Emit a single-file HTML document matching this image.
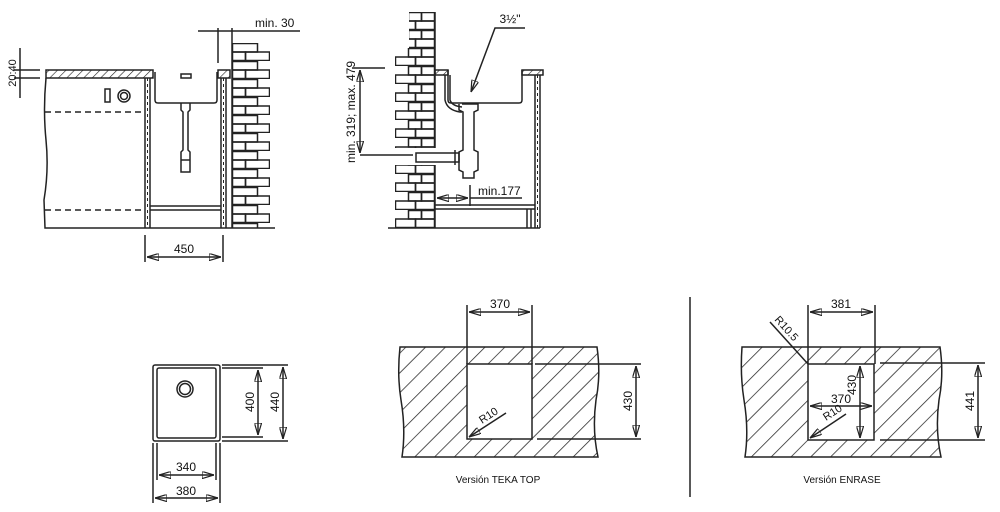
<!DOCTYPE html>
<html><head><meta charset="utf-8"><style>
html,body{margin:0;padding:0;background:#fff;width:1000px;height:512px;overflow:hidden}
text{font-family:"Liberation Sans",sans-serif;fill:#111}
</style></head><body>
<svg width="1000" height="512" viewBox="0 0 1000 512" xmlns="http://www.w3.org/2000/svg">
<defs>
<pattern id="h" patternUnits="userSpaceOnUse" width="14" height="14" patternTransform="rotate(45)">
<line x1="0" y1="0" x2="0" y2="14" stroke="#222" stroke-width="1.5"/></pattern>
<pattern id="hs" patternUnits="userSpaceOnUse" width="6" height="6" patternTransform="rotate(45)">
<line x1="0" y1="0" x2="0" y2="6" stroke="#222" stroke-width="1.2"/></pattern>
<pattern id="b1" patternUnits="userSpaceOnUse" x="232" y="43" width="38" height="18">
<rect x="0.5" y="0.5" width="25" height="8.5" fill="none" stroke="#222" stroke-width="1.5"/>
<rect x="0.5" y="9" width="13" height="8.5" fill="none" stroke="#222" stroke-width="1.5"/>
<rect x="13.5" y="9" width="24" height="8.5" fill="none" stroke="#222" stroke-width="1.5"/>
</pattern>
<pattern id="b2" patternUnits="userSpaceOnUse" x="395" y="12" width="40" height="18">
<rect x="13.5" y="0.5" width="13" height="8.5" fill="none" stroke="#222" stroke-width="1.5"/>
<rect x="26.5" y="0.5" width="13" height="8.5" fill="none" stroke="#222" stroke-width="1.5"/>
<rect x="0.5" y="9" width="20" height="8.5" fill="none" stroke="#222" stroke-width="1.5"/>
<rect x="20.5" y="9" width="19" height="8.5" fill="none" stroke="#222" stroke-width="1.5"/>
</pattern>
<marker id="a" viewBox="0 0 10 6" refX="10" refY="3" markerWidth="8" markerHeight="5" orient="auto-start-reverse"><path d="M0,0 L10,3 L0,6 z" fill="none" stroke="#222"/></marker>
</defs>
<g stroke="#222" stroke-width="1.5" fill="none">
<!-- Drawing 1 -->
<line x1="20" y1="48" x2="20" y2="98"/>
<line x1="14" y1="70" x2="40" y2="70"/><line x1="14" y1="78" x2="40" y2="78"/>
<rect x="46" y="70" width="107" height="8" fill="url(#hs)"/>
<rect x="218" y="70" width="12" height="8" fill="url(#hs)"/>
<path d="M46,78 Q43,110 46,140 Q49,170 44,200 L45,228 L275,228"/>
<line x1="45" y1="112" x2="145" y2="112" stroke-dasharray="6,4"/>
<line x1="45" y1="210" x2="145" y2="210" stroke-dasharray="6,4"/>
<line x1="145" y1="78" x2="145" y2="228"/><line x1="150" y1="78" x2="150" y2="228"/>
<line x1="147.5" y1="78" x2="147.5" y2="228" stroke-dasharray="3,3" stroke-width="1"/>
<line x1="221" y1="78" x2="221" y2="228"/><line x1="226" y1="78" x2="226" y2="228"/>
<line x1="223.5" y1="78" x2="223.5" y2="228" stroke-dasharray="3,3" stroke-width="1"/>
<line x1="150" y1="206" x2="221" y2="206"/><line x1="150" y1="210" x2="221" y2="210"/>
<path d="M155,72 L155,100 Q155,103 158,103 L214,103 Q217,103 217,100 L217,72"/>
<rect x="181" y="74" width="10" height="4"/>
<path d="M181,103 L181,110 L183,112 L183,150 L181,152 L181,172 L190,172 L190,152 L188,150 L188,112 L190,110 L190,103"/>
<line x1="181" y1="160" x2="190" y2="160"/>
<rect x="105" y="89" width="5" height="13"/>
<circle cx="124" cy="96" r="6"/><circle cx="124" cy="96" r="3.5"/>
<rect x="232" y="43" width="38" height="185" fill="url(#b1)" stroke="none"/>
<line x1="232" y1="43" x2="232" y2="228"/>
<line x1="198" y1="31" x2="300" y2="31"/>
<line x1="218" y1="28" x2="218" y2="63"/><line x1="232" y1="28" x2="232" y2="43"/>
<line x1="145" y1="235" x2="145" y2="262"/><line x1="223" y1="235" x2="223" y2="262"/>
<line x1="147" y1="257" x2="221" y2="257" marker-start="url(#a)" marker-end="url(#a)"/>
<!-- Drawing 2 -->
<rect x="395" y="12" width="40" height="136" fill="url(#b2)" stroke="none"/>
<rect x="395" y="165" width="40" height="63" fill="url(#b2)" stroke="none"/>
<rect x="395" y="0" width="14" height="48" fill="#fff" stroke="none"/>
<line x1="435" y1="12" x2="435" y2="148"/><line x1="435" y1="165" x2="435" y2="228"/>
<rect x="435" y="70" width="13" height="5" fill="url(#hs)"/>
<rect x="522" y="70" width="21" height="5" fill="url(#hs)"/>
<path d="M448,70 L448,100 Q448,103 451,103 L519,103 Q522,103 522,100 L522,70"/>
<line x1="535" y1="75" x2="535" y2="228"/><line x1="540" y1="75" x2="540" y2="228"/>
<line x1="537.5" y1="75" x2="537.5" y2="228" stroke-dasharray="3,3" stroke-width="1"/>
<line x1="388" y1="228" x2="540" y2="228"/>
<line x1="435" y1="205" x2="535" y2="205"/><line x1="435" y1="209" x2="535" y2="209"/>
<line x1="527" y1="209" x2="527" y2="228"/><line x1="531" y1="209" x2="531" y2="228"/>
<path d="M445,75 L445,100 Q447,110 460,112 L462,112 M450,75 L450,100 Q452,106 462,107"/>
<path d="M462,104 L478,104 L478,110 L474,112 L474,150 L478,152 L478,170 L474,172 L474,178 L463,178 L463,172 L459,170 L459,152 L463,150 L463,112 L459,110 L459,104"/>
<rect x="416" y="153" width="43" height="9"/>
<line x1="455" y1="150" x2="455" y2="165"/>
<line x1="352" y1="68" x2="385" y2="68"/><line x1="360" y1="155" x2="413" y2="155"/>
<line x1="360" y1="70" x2="360" y2="153" marker-start="url(#a)" marker-end="url(#a)"/>
<path d="M525,28 L495,28 L471,92" marker-end="url(#a)"/>
<line x1="470" y1="185" x2="470" y2="206"/>
<line x1="437" y1="198" x2="468" y2="198" marker-start="url(#a)" marker-end="url(#a)"/>
<line x1="470" y1="198" x2="522" y2="198"/>
<!-- Drawing 3 -->
<rect x="153" y="365" width="67" height="76" rx="2"/>
<rect x="157" y="368" width="59" height="70" rx="2"/>
<circle cx="185" cy="389" r="8"/><circle cx="185" cy="389" r="5.5"/>
<line x1="222" y1="368" x2="263" y2="368"/><line x1="222" y1="437" x2="263" y2="437"/>
<line x1="222" y1="365" x2="288" y2="365"/><line x1="222" y1="441" x2="288" y2="441"/>
<line x1="258" y1="370" x2="258" y2="435" marker-start="url(#a)" marker-end="url(#a)"/>
<line x1="283" y1="367" x2="283" y2="439" marker-start="url(#a)" marker-end="url(#a)"/>
<line x1="157" y1="443" x2="157" y2="480"/><line x1="216" y1="443" x2="216" y2="480"/>
<line x1="153" y1="443" x2="153" y2="503"/><line x1="220" y1="443" x2="220" y2="503"/>
<line x1="159" y1="475" x2="214" y2="475" marker-start="url(#a)" marker-end="url(#a)"/>
<line x1="155" y1="498" x2="218" y2="498" marker-start="url(#a)" marker-end="url(#a)"/>
<!-- Drawing 4 -->
<path d="M400,347 L597,347 Q601,375 596,400 Q592,430 598,457 L402,457 Q406,430 401,400 Q397,375 400,347 Z" fill="url(#h)"/>
<rect x="467" y="364" width="65" height="75" fill="#fff"/>
<line x1="467" y1="305" x2="467" y2="364"/><line x1="532" y1="305" x2="532" y2="364"/>
<line x1="469" y1="312" x2="530" y2="312" marker-start="url(#a)" marker-end="url(#a)"/>
<line x1="535" y1="364" x2="641" y2="364"/><line x1="537" y1="439" x2="641" y2="439"/>
<line x1="636" y1="366" x2="636" y2="437" marker-start="url(#a)" marker-end="url(#a)"/>
<line x1="506" y1="413" x2="469" y2="437" marker-end="url(#a)"/>
<line x1="690" y1="297" x2="690" y2="497"/>
<!-- Drawing 5 -->
<path d="M742,347 L940,347 Q944,375 939,400 Q935,430 941,457 L745,457 Q749,430 744,400 Q740,375 742,347 Z" fill="url(#h)"/>
<rect x="808" y="364" width="66" height="76" fill="#fff"/>
<line x1="808" y1="305" x2="808" y2="364"/><line x1="875" y1="305" x2="875" y2="364"/>
<line x1="810" y1="312" x2="873" y2="312" marker-start="url(#a)" marker-end="url(#a)"/>
<line x1="880" y1="363" x2="985" y2="363"/><line x1="880" y1="440" x2="985" y2="440"/>
<line x1="978" y1="365" x2="978" y2="438" marker-start="url(#a)" marker-end="url(#a)"/>
<line x1="810" y1="406" x2="872" y2="406" marker-start="url(#a)" marker-end="url(#a)"/>
<line x1="860" y1="366" x2="860" y2="438" marker-start="url(#a)" marker-end="url(#a)"/>
<line x1="846" y1="414" x2="810" y2="438" marker-end="url(#a)"/>
<line x1="770" y1="322" x2="808" y2="364"/>
</g>
<g font-size="12">
<text x="16" y="73" transform="rotate(-90 16 73)" text-anchor="middle" font-size="11">20:40</text>
<text x="255" y="27">min. 30</text>
<text x="184" y="253" text-anchor="middle">450</text>
<text x="510" y="23" text-anchor="middle">3½"</text>
<text x="355" y="112" transform="rotate(-90 355 112)" text-anchor="middle">min. 319; max. 479</text>
<text x="478" y="195">min.177</text>
<text x="254" y="402" transform="rotate(-90 254 402)" text-anchor="middle">400</text>
<text x="279" y="402" transform="rotate(-90 279 402)" text-anchor="middle">440</text>
<text x="186" y="471" text-anchor="middle">340</text>
<text x="186" y="495" text-anchor="middle">380</text>
<text x="500" y="308" text-anchor="middle">370</text>
<text x="632" y="401" transform="rotate(-90 632 401)" text-anchor="middle">430</text>
<text x="482" y="424" transform="rotate(-33 482 424)" font-size="11">R10</text>
<text x="498" y="483" text-anchor="middle" font-size="10">Versión  TEKA  TOP</text>
<text x="841" y="308" text-anchor="middle">381</text>
<text x="974" y="401" transform="rotate(-90 974 401)" text-anchor="middle">441</text>
<text x="841" y="403" text-anchor="middle">370</text>
<text x="856" y="385" transform="rotate(-90 856 385)" text-anchor="middle">430</text>
<text x="826" y="421" transform="rotate(-33 826 421)" font-size="11">R10</text>
<text x="774" y="320" transform="rotate(48 774 320)" font-size="11">R10.5</text>
<text x="842" y="483" text-anchor="middle" font-size="10">Versión  ENRASE</text>
</g>
</svg>
</body></html>
